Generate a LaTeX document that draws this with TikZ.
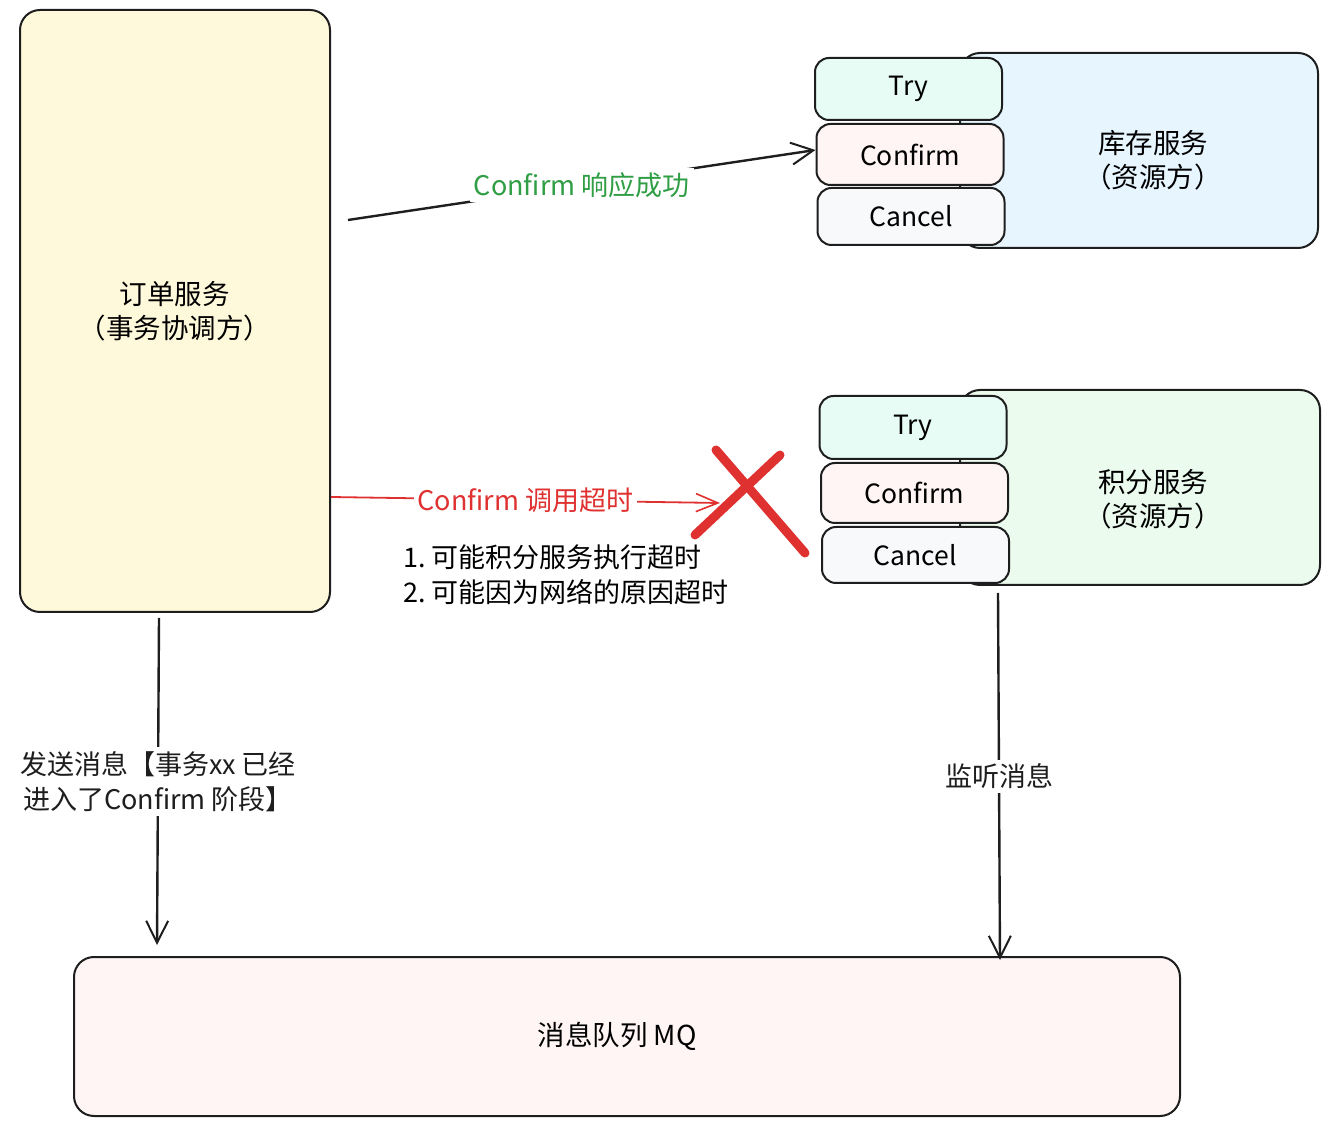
\documentclass[tikz,border=0pt]{standalone}
\usepackage{fontspec}
\setmainfont{Noto Sans CJK SC}
\usepackage{tikz}
\usetikzlibrary{arrows.meta, positioning, calc}
\definecolor{ink}{HTML}{1E1E1E}
\definecolor{yellow_bg}{HTML}{FFF9DB}
\definecolor{blue_bg}{HTML}{E7F5FF}
\definecolor{green_bg}{HTML}{EBFBEE}
\definecolor{mint_bg}{HTML}{E6FCF5}
\definecolor{pink_bg}{HTML}{FFF5F5}
\definecolor{grey_bg}{HTML}{F8F9FA}
\definecolor{ok_green}{HTML}{2F9E44}
\definecolor{fail_red}{HTML}{E03131}
\tikzset{
  service_box/.style={rectangle, draw=ink, line width=1pt, rounded corners=10pt, align=center, font=\fontsize{13.75}{17}\selectfont},
  service_text/.style={align=center, font=\fontsize{13.75}{17}\selectfont},
  phase_box/.style={rectangle, draw=ink, line width=1pt, rounded corners=7pt, minimum width=93.5pt, font=\fontsize{13.25}{15}\selectfont},
  arrow/.style={-{Straight Barb[length=11pt, width=11pt, line width=1pt]}, line width=1.2pt, ink},
  fail_arrow/.style={-{Straight Barb[length=11pt, width=9pt, line width=0.8pt]}, line width=0.9pt, fail_red},
  label_text/.style={fill=white, inner sep=2pt, align=center, font=\fontsize{13.5}{17.5}\selectfont},
  cross_line/.style={line width=4.5pt, fail_red, line cap=round}
}

\begin{document}
\begin{tikzpicture}[x=0.5pt, y=0.5pt]
    \useasboundingbox (0,0) rectangle (1329,1126);

    % 1. Coordinator and message queue
    \node[service_box, fill=yellow_bg, minimum width=155pt, minimum height=301pt] (order) at (175,815) {订单服务\\（事务协调方）};
    \node[service_box, fill=pink_bg, minimum width=553pt, minimum height=79.5pt,
          label={[service_text, xshift=-5pt]center:消息队列 MQ}] (mq) at (627,89.5) {};

    % 2. Inventory service with its three phases
    \node[service_box, fill=blue_bg, minimum width=179pt, minimum height=97.5pt,
          label={[service_text, xshift=7pt, yshift=-5pt]center:库存服务\\（资源方）}] (stock) at (1139,975.5) {};
    \node[phase_box, fill=mint_bg, minimum height=31pt] (stock_try) at (908.5,1037) {Try};
    \node[phase_box, fill=pink_bg, minimum height=30.5pt] (stock_confirm) at (910,971.5) {Confirm};
    \node[phase_box, fill=grey_bg, minimum height=28.5pt] (stock_cancel) at (911,909.5) {Cancel};

    % 3. Points service with its three phases
    \node[service_box, fill=green_bg, minimum width=180pt, minimum height=97.5pt,
          label={[service_text, xshift=6.5pt, yshift=-6pt]center:积分服务\\（资源方）}] (points) at (1140,638.5) {};
    \node[phase_box, fill=mint_bg, minimum height=31.5pt] (points_try) at (913,698.5) {Try};
    \node[phase_box, fill=pink_bg, minimum height=30pt] (points_confirm) at (914.5,633) {Confirm};
    \node[phase_box, fill=grey_bg, minimum height=28pt] (points_cancel) at (915.5,571) {Cancel};

    % 4. Confirm calls
    \coordinate (ok_start) at (348,906);
    \draw[arrow] (ok_start) -- (stock_confirm.west |- 0,976)
        node[midway, label_text, text=ok_green] (ok_label) {Confirm 响应成功};
    \coordinate (fail_start) at (order.east |- 0,629);
    \coordinate (fail_end) at (720,623);
    \draw[fail_arrow] (fail_start) -- (fail_end)
        node[midway, label_text, text=fail_red] (fail_label) {Confirm 调用超时};

    % 5. The cross over the failed call
    \coordinate (cross_a) at (716,676);
    \coordinate (cross_b) at (805,573);
    \coordinate (cross_c) at (780,671);
    \coordinate (cross_d) at (695,591);
    \draw[cross_line] (cross_a) -- (cross_b);
    \draw[cross_line] (cross_c) -- (cross_d);

    \node[anchor=west, align=left, font=\fontsize{13.5}{17.5}\selectfont] (reasons) at (396,551) {1.\ 可能积分服务执行超时\\2.\ 可能因为网络的原因超时};

    % 6. Messages to and from the queue
    \coordinate (send_start) at (159,508);
    \coordinate (send_end) at (157,181);
    \draw[arrow] (send_start) -- (send_end)
        node[midway, label_text] (send_label) {发送消息【事务xx 已经\\进入了Confirm 阶段】};
    \coordinate (listen_start) at (998,533);
    \coordinate (listen_end) at (1000,166);
    \draw[arrow] (listen_start) -- (listen_end)
        node[midway, label_text] (listen_label) {监听消息};
\end{tikzpicture}
\end{document}
